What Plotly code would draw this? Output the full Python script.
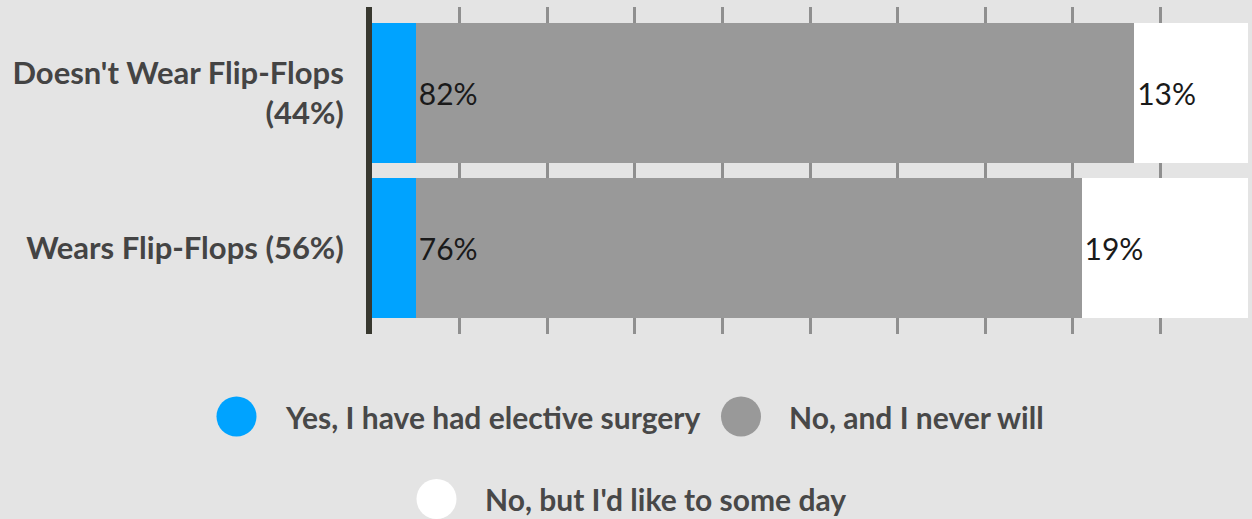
import plotly.graph_objects as go

categories = ["Wears Flip-Flops (56%)", "Doesn't Wear Flip-Flops<br>(44%)"]
series_names = ["Yes, I have had elective surgery", "No, and I never will", "No, but I'd like to some day"]
yes_vals = [5, 5]
never_vals = [76, 82]
someday_vals = [19, 13]
x_ticks = [0, 10, 20, 30, 40, 50, 60, 70, 80, 90, 100]

colors = ["#00a3ff", "#999999", "#ffffff"]
bg = "#e4e4e4"
text_dark = "#444444"

W, H = 1252, 519
ML, MR, MT, MB = 372, 4, 7, 185
PW, PH = W - ML - MR, H - MT - MB

fig = go.Figure()
for name, vals, col, show_text in zip(series_names, [yes_vals, never_vals, someday_vals], colors, [False, True, True]):
    fig.add_trace(go.Bar(
        y=categories, x=vals, orientation="h", name=name,
        marker=dict(color=col, line=dict(width=0)),
        width=0.903,
        text=[f"{v}%" for v in vals] if show_text else None,
        textposition="inside" if show_text else "none",
        insidetextanchor="start",
        textfont=dict(family="Lato", size=30, color="#1a1a1a"),
        showlegend=False, hoverinfo="skip",
    ))

fig.update_layout(
    width=W, height=H, barmode="stack",
    margin=dict(l=ML, r=MR, t=MT, b=MB, pad=0),
    paper_bgcolor=bg, plot_bgcolor=bg,
    showlegend=False,
    xaxis=dict(range=[0, 100], tickvals=x_ticks, showticklabels=False, showgrid=True,
               gridcolor="#8f8f8f", gridwidth=3, zeroline=False, showline=False, fixedrange=True),
    yaxis=dict(range=[-0.555, 1.555], showline=True, linecolor="#38382f", linewidth=6,
               showgrid=False, zeroline=False, ticks="", ticklabelstandoff=16,
               tickfont=dict(family="Lato", size=31, color=text_dark, weight="bold"), fixedrange=True),
)

# manual legend (circles + labels) in paper coordinates
def px_to_paper(px, py):
    return (px - ML) / PW, (H - MB - py) / PH

legend_items = [
    (236.5, 416.5, 283),
    (741, 416.5, 787),
    (436.5, 499, 483),
]
for (cx, cy, tx), name, col in zip(legend_items, series_names, colors):
    xa, ya = px_to_paper(cx, cy)
    fig.add_shape(type="circle", xref="paper", yref="paper", xsizemode="pixel", ysizemode="pixel",
                  xanchor=xa, yanchor=ya, x0=-20, x1=20, y0=-20, y1=20,
                  fillcolor=col, line=dict(width=0))
    txa, _ = px_to_paper(tx, cy)
    fig.add_annotation(xref="paper", yref="paper", x=txa, y=ya, xanchor="left", yanchor="middle",
                       text=name, showarrow=False,
                       font=dict(family="Lato", size=30, color="#484848", weight="bold"))

fig.write_html("out.html")
